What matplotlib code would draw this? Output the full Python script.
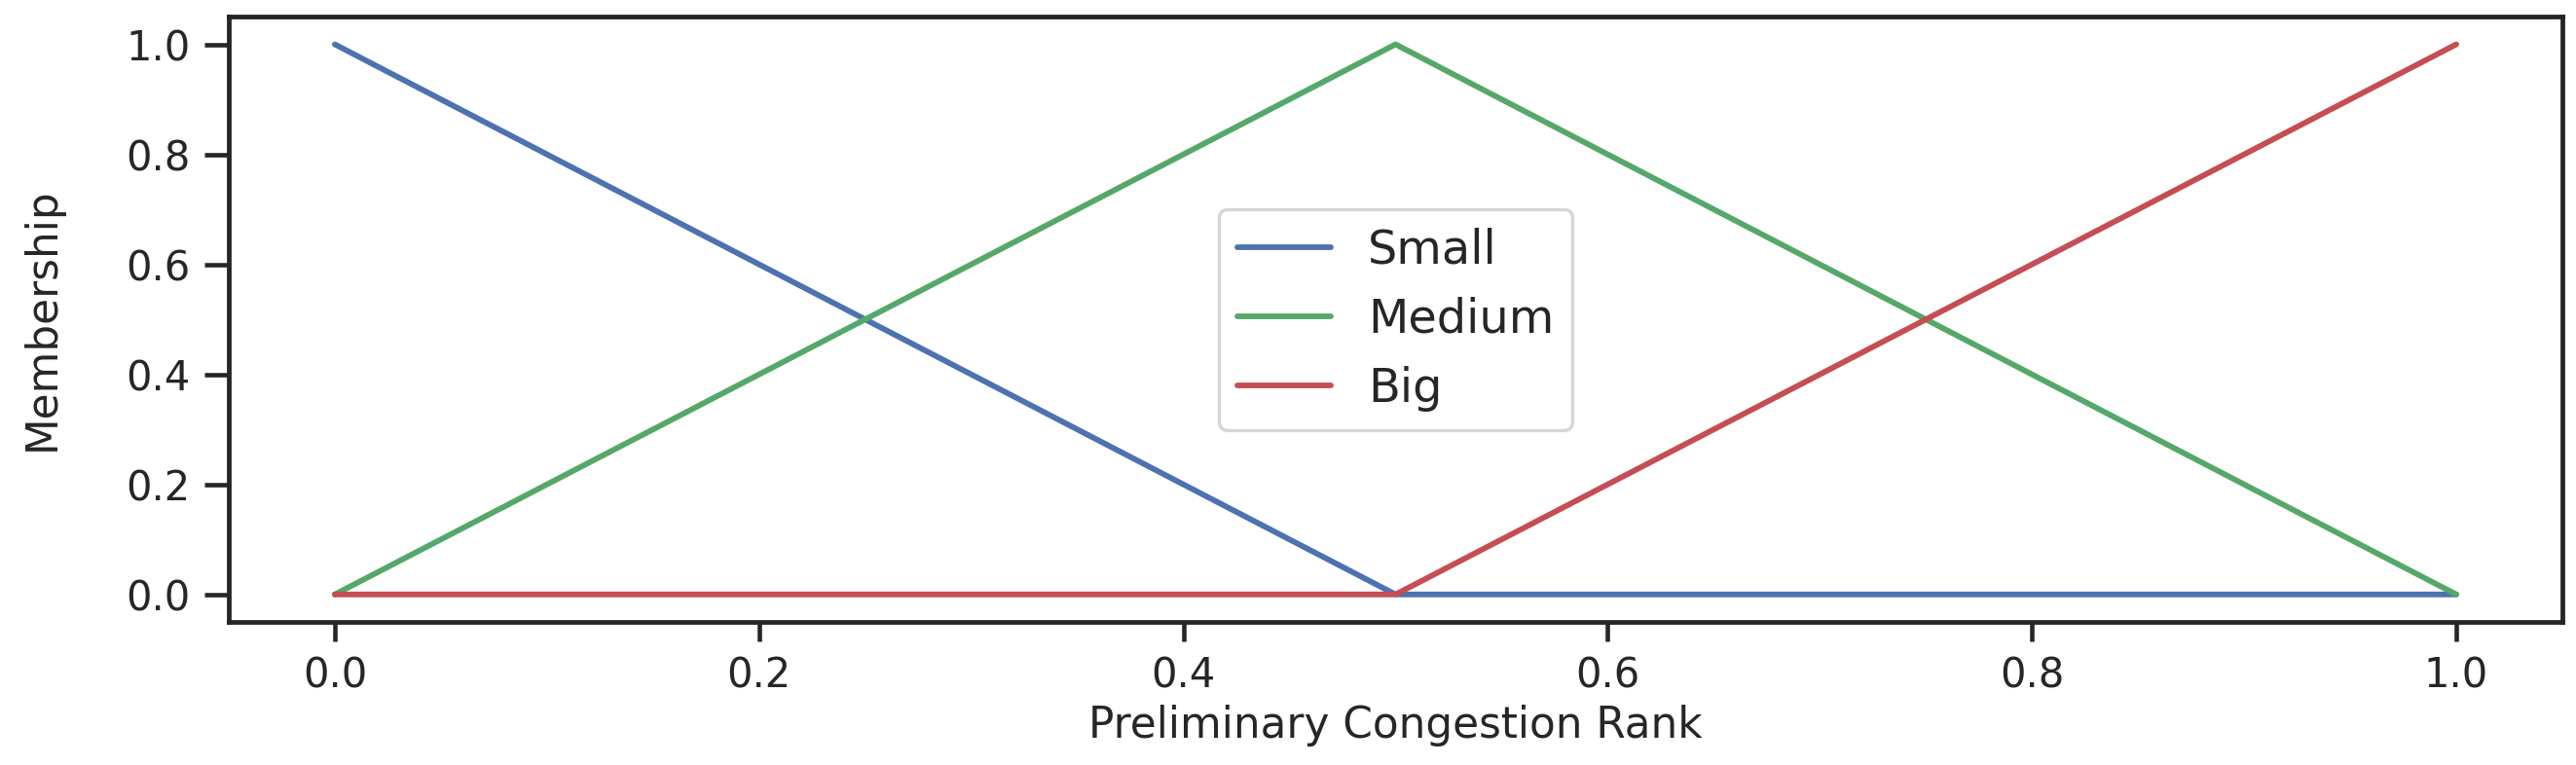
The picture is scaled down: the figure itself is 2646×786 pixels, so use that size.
import numpy as np
import matplotlib
matplotlib.use("Agg")
import matplotlib.pyplot as plt
import seaborn as sns

# membership function breakpoints
x_rank = [0.0, 0.5, 1.0]
small = [1.0, 0.0, 0.0]
medium = [0.0, 1.0, 0.0]
big = [0.0, 0.0, 1.0]
series_names = ["Small", "Medium", "Big"]

sns.set_theme(style="ticks", context="paper")
plt.rcParams['font.family'] = ['DejaVu Sans']

pal = sns.color_palette("deep")
colors = [pal[0], pal[2], pal[3]]

fig = plt.figure(figsize=(2646 / 300, 786 / 300), dpi=300)
ax = fig.add_subplot(111)
fig.subplots_adjust(left=0.0888, right=0.9947, top=0.978, bottom=0.187)

for ys, name, c in zip([small, medium, big], series_names, colors):
    ax.plot(x_rank, ys, color=c, linewidth=1.4, label=name)

ax.set_xticks([0.0, 0.2, 0.4, 0.6, 0.8, 1.0])
ax.set_yticks([0.0, 0.2, 0.4, 0.6, 0.8, 1.0])
ax.tick_params(axis='both', labelsize=10, length=4.8, width=1.1, color='#262626')
ax.tick_params(axis='y', length=6)
for s in ax.spines.values():
    s.set_linewidth(1.15)
    s.set_color('#262626')

ax.set_xlabel("Preliminary Congestion Rank", fontsize=10.5, labelpad=2)
ax.set_ylabel("Membership", fontsize=10.5)
ax.yaxis.set_label_coords(-0.071, 0.5)

ax.legend(loc='center', fontsize=11.5)

plt.savefig("out.png", dpi=300)
